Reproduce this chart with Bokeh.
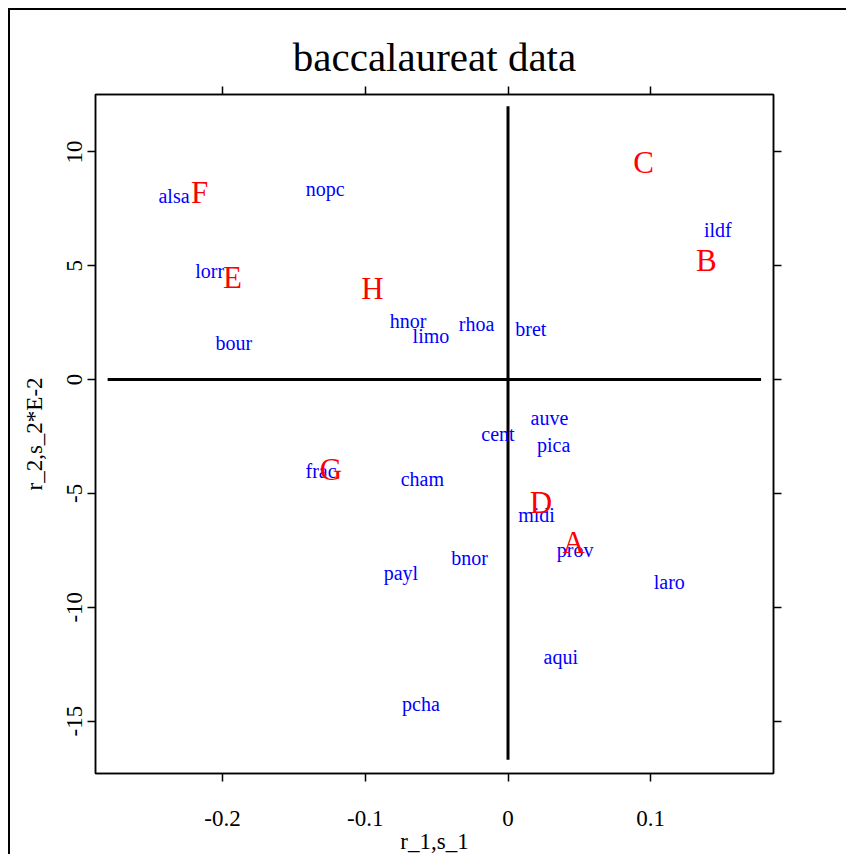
from bokeh.plotting import figure
from bokeh.models import LinearAxis, FixedTicker, ColumnDataSource, Title, CustomLabelingPolicy
from bokeh.core.properties import value
from bokeh.embed import file_html
from bokeh.resources import INLINE

# regions (blue labels)
regions = ["alsa", "nopc", "lorr", "bour", "hnor", "limo", "rhoa", "bret", "ildf",
           "auve", "cent", "pica", "frac", "cham", "midi", "prov", "bnor", "payl",
           "laro", "aqui", "pcha"]
reg_x = [-0.234, -0.128, -0.209, -0.192, -0.070, -0.054, -0.022, 0.016, 0.147,
         0.029, -0.007, 0.032, -0.131, -0.060, 0.020, 0.047, -0.027, -0.075,
         0.113, 0.037, -0.061]
reg_y = [8.08, 8.35, 4.79, 1.60, 2.59, 1.93, 2.42, 2.23, 6.55,
         -1.68, -2.39, -2.87, -4.00, -4.36, -5.93, -7.47, -7.83, -8.49,
         -8.88, -12.17, -14.24]

# modalities (red letters)
letters = ["A", "B", "C", "D", "E", "F", "G", "H"]
let_x = [0.046, 0.139, 0.095, 0.023, -0.193, -0.216, -0.124, -0.095]
let_y = [-7.15, 5.23, 9.53, -5.39, 4.49, 8.20, -3.97, 4.00]

# axis lines through origin
hline_x = [-0.2805, 0.1773]
hline_y = [0, 0]
vline_x = [0, 0]
vline_y = [-16.7, 12.0]

x_ticks = [-0.2, -0.1, 0.0, 0.1]
x_tick_labels = ["-0.2", "-0.1", "0", "0.1"]
y_ticks = [-15, -10, -5, 0, 5, 10]
y_tick_labels = ["-15", "-10", "-5", "0", "5", "10"]

FONT = "Liberation Serif"

p = figure(width=838, height=846, output_backend="svg", toolbar_location=None,
           x_range=(-0.289, 0.186), y_range=(-17.30, 12.52),
           min_border_left=85, min_border_top=84, min_border_right=75, min_border_bottom=83,
           x_axis_location=None, y_axis_location=None)
p.styles = {"margin-left": "8px", "margin-top": "8px",
            "border-left": "2px solid black", "border-top": "2px solid black"}
p.grid.visible = False
p.outline_line_color = "black"
p.outline_line_width = 1.5
p.background_fill_color = "white"
p.border_fill_color = "white"

hide_all = CustomLabelingPolicy(code="""
    const all = [...indices]
    for (const i of all) indices.unset(i)
    return indices
""")

def make_axis(ticks, labels, label=None):
    ax = LinearAxis(ticker=FixedTicker(ticks=ticks))
    ax.axis_line_color = "black"
    ax.axis_line_width = 1.5
    ax.major_tick_line_color = "black"
    ax.major_tick_line_width = 1.5
    ax.major_tick_out = 8
    ax.major_tick_in = 0
    ax.minor_tick_line_color = None
    ax.major_label_text_font = FONT
    ax.major_label_text_color = "black"
    if labels is not None:
        ax.major_label_text_font_size = "23px"
        ax.major_label_overrides = {t: s for t, s in zip(ticks, labels)}
    else:
        ax.major_label_text_font_size = "0px"
        ax.major_label_policy = hide_all
        ax.major_label_standoff = 0
    if label:
        ax.axis_label = label
        ax.axis_label_text_font = FONT
        ax.axis_label_text_font_size = "23px"
        ax.axis_label_text_font_style = "normal"
        ax.axis_label_text_color = "black"
    return ax

xb = make_axis(x_ticks, x_tick_labels, "r_1,s_1")
xb.major_label_standoff = 29
xb.axis_label_standoff = 0
p.add_layout(xb, "below")

yl = make_axis(y_ticks, y_tick_labels, "r_2,s_2*E-2")
yl.major_label_orientation = "parallel"
yl.major_label_standoff = 5
yl.axis_label_standoff = 18
p.add_layout(yl, "left")

xt = make_axis(x_ticks, None)
p.add_layout(xt, "above")
yr = make_axis(y_ticks, None)
p.add_layout(yr, "right")

p.title = Title(text="baccalaureat data", align="center", text_font=FONT,
                text_font_size="41px", text_font_style="normal", text_color="black",
                standoff=13)

p.line(hline_x, hline_y, line_color="black", line_width=3)
p.line(vline_x, vline_y, line_color="black", line_width=3)

src_r = ColumnDataSource(dict(x=reg_x, y=reg_y, t=regions))
p.text(x="x", y="y", text="t", source=src_r, text_font=value(FONT),
       text_font_size="20px", text_color="#0000FF", text_align="center",
       text_baseline="middle")

src_l = ColumnDataSource(dict(x=let_x, y=let_y, t=letters))
p.text(x="x", y="y", text="t", source=src_l, text_font=value(FONT),
       text_font_size="31px", text_color="#FF0000", text_align="center",
       text_baseline="middle")

open("out.html", "w").write(file_html(p, INLINE))
